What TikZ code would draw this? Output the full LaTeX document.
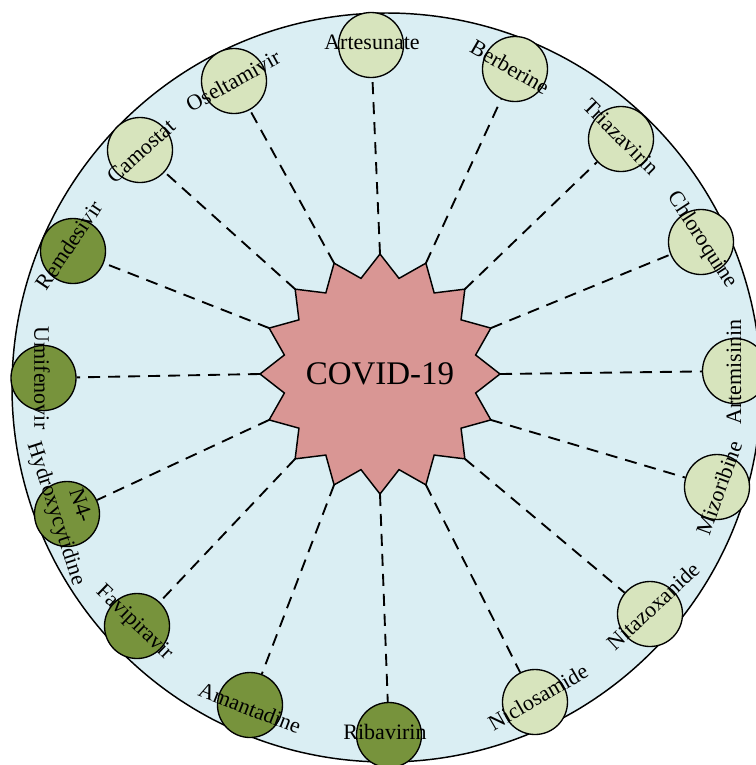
\documentclass[tikz,border=0pt]{standalone}
\usepackage{fontspec}
\setmainfont{Liberation Serif}
\definecolor{bgblue}{HTML}{DAEEF3}
\definecolor{lightgreen}{HTML}{D7E4BD}
\definecolor{darkgreen}{HTML}{77933C}
\definecolor{starred}{HTML}{D99694}
\begin{document}
\begin{tikzpicture}[x=0.75pt,y=-0.75pt,
  bigdisc/.style={draw=black,line width=1.1pt,fill=bgblue},
  drug/.style={circle,draw=black,line width=1pt,minimum size=48.75pt,inner sep=0pt},
  lightdrug/.style={drug,fill=lightgreen},
  darkdrug/.style={drug,fill=darkgreen},
  lbl/.style={font=\fontsize{16.5}{19}\selectfont,inner sep=0pt,align=center},
  conn/.style={dash pattern=on 9pt off 6pt,line width=1.4pt},
  virus/.style={draw=black,line width=1.1pt,fill=starred,line join=miter}]
\useasboundingbox (0,0) rectangle (756,765);
\clip (0,0) rectangle (756,765);
\draw[bigdisc] (386.5,387.5) circle (374.5);
% star
\draw[virus] plot[samples at={0,...,31}]
  ({380+ifthenelse(mod(\x,2)==0,120,97.5)*cos(\x*11.25-90)},
   {374+ifthenelse(mod(\x,2)==0,120,97.5)*sin(\x*11.25-90)}) -- cycle;
\node[font=\fontsize{24.75}{28}\selectfont,inner sep=0pt] (cov) at (380,374) {COVID-19};
\foreach \k in {0,...,15}
  \coordinate (o\k) at ({380+120*cos(22.5*\k-90)},{374+120*sin(22.5*\k-90)});
% circles
\node[lightdrug] (artes) at (371,45) {};
\node[lightdrug] (berb) at (515,69) {};
\node[lightdrug] (triaz) at (621,139) {};
\node[lightdrug] (chlor) at (701,242) {};
\node[lightdrug] (artem) at (735,371) {};
\node[lightdrug] (mizor) at (717,487) {};
\node[lightdrug] (nitaz) at (650,614) {};
\node[lightdrug] (niclo) at (535,702) {};
\node[darkdrug] (ribav) at (389,735) {};
\node[darkdrug] (amant) at (250,705) {};
\node[darkdrug] (favip) at (137,626) {};
\node[darkdrug] (nfour) at (67,514) {};
\node[darkdrug] (umif) at (43.5,378) {};
\node[darkdrug] (remd) at (73,251) {};
\node[lightdrug] (camo) at (140,150) {};
\node[lightdrug] (oselt) at (234,81) {};
% connectors
\draw[conn] (o0) -- (artes);
\draw[conn] (o1) -- (berb);
\draw[conn] (o2) -- (triaz);
\draw[conn] (o3) -- (chlor);
\draw[conn] (o4) -- (artem);
\draw[conn] (o5) -- (mizor);
\draw[conn] (o6) -- (nitaz);
\draw[conn] (o7) -- (niclo);
\draw[conn] (o8) -- (ribav);
\draw[conn] (o9) -- (amant);
\draw[conn] (o10) -- (favip);
\draw[conn] (o11) -- (nfour);
\draw[conn] (o12) -- (umif);
\draw[conn] (o13) -- (remd);
\draw[conn] (o14) -- (camo);
\draw[conn] (o15) -- (oselt);
% labels
\node[lbl] (tartes) at (372,42) {Artesunate};
\node[lbl,rotate=-30] (tberb) at (510,67) {Berberine};
\node[lbl,rotate=-45] (ttriaz) at (621,137) {Triazavirin};
\node[lbl,rotate=-57] (tchlor) at (702,240) {Chloroquine};
\node[lbl,rotate=90] (tartem) at (734,372) {Artemisinin};
\node[lbl,rotate=70] (tmizor) at (719,488) {Mizoribine};
\node[lbl,rotate=43] (tnitaz) at (653,606) {Nitazoxanide};
\node[lbl,rotate=30] (tniclo) at (538,697) {Niclosamide};
\node[lbl] (tribav) at (385,732) {Ribavirin};
\node[lbl,rotate=-21] (tamant) at (250,708) {Amantadine};
\node[lbl,rotate=-44] (tfavip) at (134,623) {Favipiravir};
\node[lbl,rotate=-72] (tnfour) at (67,510) {N4-\\Hydroxycytidine};
\node[lbl,rotate=-90] (tumif) at (42,378) {Umifenovir};
\node[lbl,rotate=56] (tremd) at (69,245) {Remdesivir};
\node[lbl,rotate=42] (tcamo) at (141,151) {Camostat};
\node[lbl,rotate=29] (toselt) at (233,81) {Oseltamivir};
\end{tikzpicture}
\end{document}
